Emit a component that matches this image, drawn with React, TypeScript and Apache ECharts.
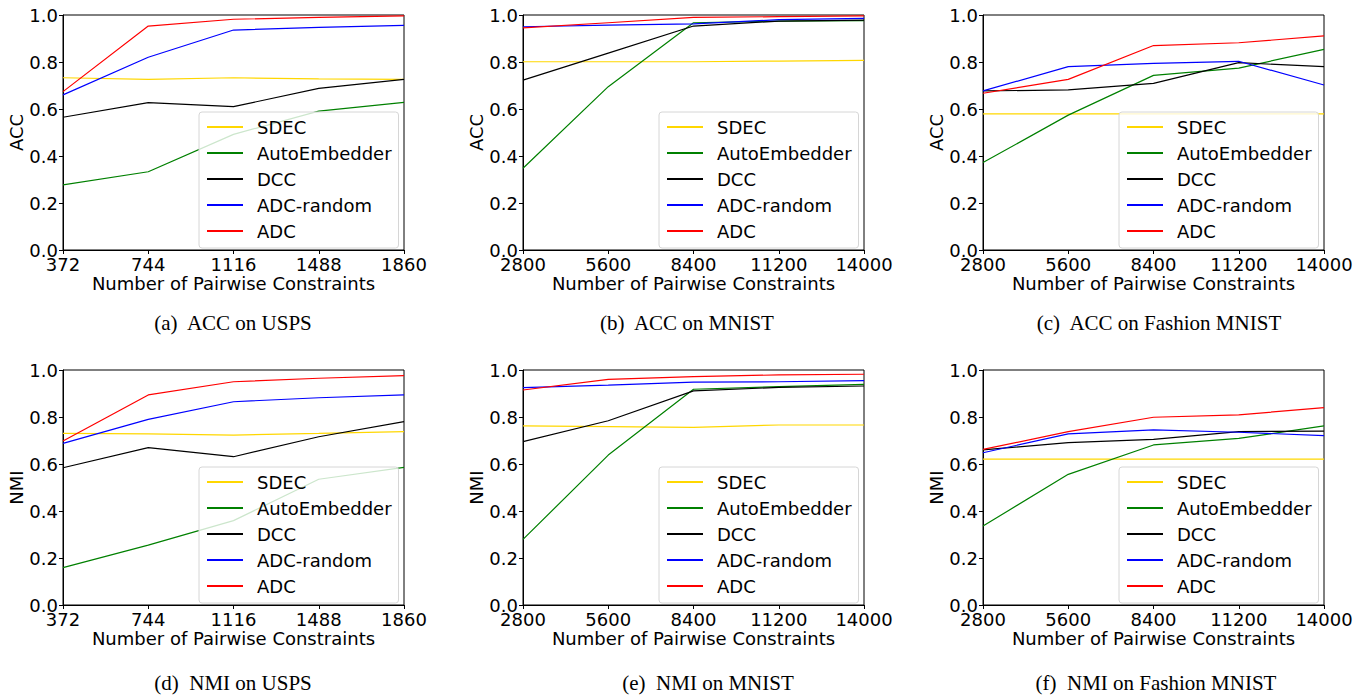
import React, { useEffect, useRef } from "react";
import * as echarts from "echarts";

const METHODS = ["SDEC", "AutoEmbedder", "DCC", "ADC-random", "ADC"];
const COLORS = ["#FFD700", "#008000", "#000000", "#0000FF", "#FF0000"];

const X_USPS = [372, 744, 1116, 1488, 1860];
const X_MNIST = [2800, 5600, 8400, 11200, 14000];

// rows follow METHODS order
const ACC_USPS = [
  [0.733, 0.726, 0.733, 0.728, 0.726],
  [0.277, 0.333, 0.492, 0.591, 0.628],
  [0.565, 0.627, 0.61, 0.688, 0.726],
  [0.66, 0.82, 0.936, 0.947, 0.956],
  [0.674, 0.953, 0.982, 0.99, 0.996],
];
const ACC_MNIST = [
  [0.801, 0.801, 0.801, 0.804, 0.807],
  [0.348, 0.695, 0.967, 0.974, 0.976],
  [0.723, 0.838, 0.953, 0.974, 0.978],
  [0.95, 0.957, 0.962, 0.98, 0.986],
  [0.945, 0.967, 0.99, 0.993, 0.996],
];
const ACC_FASHION = [
  [0.579, 0.579, 0.579, 0.579, 0.579],
  [0.372, 0.574, 0.743, 0.774, 0.854],
  [0.677, 0.681, 0.709, 0.797, 0.78],
  [0.677, 0.78, 0.794, 0.803, 0.702],
  [0.667, 0.726, 0.87, 0.882, 0.911],
];
const NMI_USPS = [
  [0.73, 0.728, 0.723, 0.73, 0.738],
  [0.159, 0.255, 0.359, 0.535, 0.586],
  [0.584, 0.67, 0.631, 0.716, 0.78],
  [0.688, 0.79, 0.865, 0.882, 0.894],
  [0.698, 0.894, 0.95, 0.965, 0.976],
];
const NMI_MNIST = [
  [0.762, 0.759, 0.756, 0.766, 0.766],
  [0.279, 0.638, 0.918, 0.929, 0.939],
  [0.695, 0.784, 0.911, 0.926, 0.932],
  [0.925, 0.936, 0.948, 0.95, 0.955],
  [0.915, 0.96, 0.972, 0.979, 0.982],
];
const NMI_FASHION = [
  [0.621, 0.621, 0.621, 0.621, 0.621],
  [0.336, 0.556, 0.681, 0.709, 0.762],
  [0.66, 0.691, 0.705, 0.738, 0.74],
  [0.648, 0.728, 0.745, 0.735, 0.721],
  [0.662, 0.738, 0.799, 0.809, 0.84],
];

const PANELS = [
  { x: X_USPS, y: ACC_USPS, yName: "ACC", caption: "(a)  ACC on USPS" },
  { x: X_MNIST, y: ACC_MNIST, yName: "ACC", caption: "(b)  ACC on MNIST" },
  { x: X_MNIST, y: ACC_FASHION, yName: "ACC", caption: "(c)  ACC on Fashion MNIST" },
  { x: X_USPS, y: NMI_USPS, yName: "NMI", caption: "(d)  NMI on USPS" },
  { x: X_MNIST, y: NMI_MNIST, yName: "NMI", caption: "(e)  NMI on MNIST" },
  { x: X_MNIST, y: NMI_FASHION, yName: "NMI", caption: "(f)  NMI on Fashion MNIST" },
];

const COL_LEFT = [63, 523, 983];
const ROW_TOP = [15, 370];
const PW = 341;
const PH = 235;
const CAPTION_X = [233, 687, 1159, 233, 708, 1156];
const CAPTION_Y = [323, 323, 323, 683, 683, 683];
const FONT = "DejaVu Sans";
const FS = 18;

export default function App() {
  const ref = useRef<HTMLDivElement>(null);
  useEffect(() => {
    if (!ref.current) return;
    const chart = echarts.init(ref.current, null, { renderer: "svg" });
    const grid: any[] = [];
    const xAxis: any[] = [];
    const yAxis: any[] = [];
    const series: any[] = [];
    const legend: any[] = [];
    const graphic: any[] = [];
    PANELS.forEach((p, i) => {
      const left = COL_LEFT[i % 3];
      const top = ROW_TOP[Math.floor(i / 3)];
      grid.push({
        left,
        top,
        width: PW,
        height: PH,
        show: true,
        borderColor: "#000",
        borderWidth: 1,
        backgroundColor: "transparent",
      });
      const step = p.x[1] - p.x[0];
      xAxis.push({
        type: "value",
        gridIndex: i,
        min: p.x[0],
        max: p.x[p.x.length - 1],
        interval: step,
        name: "Number of Pairwise Constraints",
        nameLocation: "middle",
        nameGap: 24,
        nameTextStyle: { fontFamily: FONT, fontSize: FS, color: "#000" },
        axisLine: { show: true, lineStyle: { color: "#000", width: 1 } },
        axisTick: { show: true, length: 4, lineStyle: { color: "#000" } },
        axisLabel: {
          fontFamily: FONT,
          fontSize: FS,
          color: "#000",
          margin: 5,
          showMinLabel: true,
          showMaxLabel: true,
          hideOverlap: false,
          formatter: (v: number) => String(v),
        },
        splitLine: { show: false },
      });
      yAxis.push({
        type: "value",
        gridIndex: i,
        min: 0,
        max: 1,
        interval: 0.2,
        name: p.yName,
        nameLocation: "middle",
        nameGap: 36,
        nameTextStyle: { fontFamily: FONT, fontSize: FS, color: "#000" },
        axisLine: { show: true, lineStyle: { color: "#000", width: 1 } },
        axisTick: { show: true, length: 4, lineStyle: { color: "#000" } },
        axisLabel: {
          fontFamily: FONT,
          fontSize: FS,
          color: "#000",
          margin: 5,
          formatter: (v: number) => v.toFixed(1),
        },
        splitLine: { show: false },
      });
      METHODS.forEach((m, k) => {
        series.push({
          type: "line",
          name: m,
          xAxisIndex: i,
          yAxisIndex: i,
          data: p.x.map((xv, j) => [xv, p.y[k][j]]),
          showSymbol: false,
          symbol: "none",
          color: COLORS[k],
          lineStyle: { width: 1.2, color: COLORS[k] },
          z: 2 + k * 0.01,
        });
      });
      legend.push({
        data: METHODS.map((m) => ({ name: m, icon: "rect" })),
        orient: "vertical",
        left: left + PW - 7 - 198,
        top: top + 97,
        itemWidth: 36,
        itemHeight: 2,
        itemGap: 8,
        padding: [6, 7, 8, 8],
        backgroundColor: "rgba(255,255,255,0.8)",
        borderColor: "#d6d6d6",
        borderWidth: 1,
        borderRadius: 3,
        selectedMode: false,
        textStyle: {
          fontFamily: FONT,
          fontSize: FS,
          color: "#000",
          padding: [0, 0, 0, 9],
        },
      });
      graphic.push({
        type: "text",
        x: CAPTION_X[i],
        y: CAPTION_Y[i],
        style: {
          text: p.caption,
          fontFamily: "Liberation Serif",
          fontSize: 21,
          fill: "#000",
          textAlign: "center",
          textVerticalAlign: "middle",
        },
      });
    });
    chart.setOption({
      animation: false,
      backgroundColor: "#fff",
      grid,
      xAxis,
      yAxis,
      series,
      legend,
      graphic,
    });
    return () => chart.dispose();
  }, []);
  return (
    <div
      ref={ref}
      style={{ position: "fixed", left: 0, top: 0, width: 1370, height: 697 }}
    />
  );
}
